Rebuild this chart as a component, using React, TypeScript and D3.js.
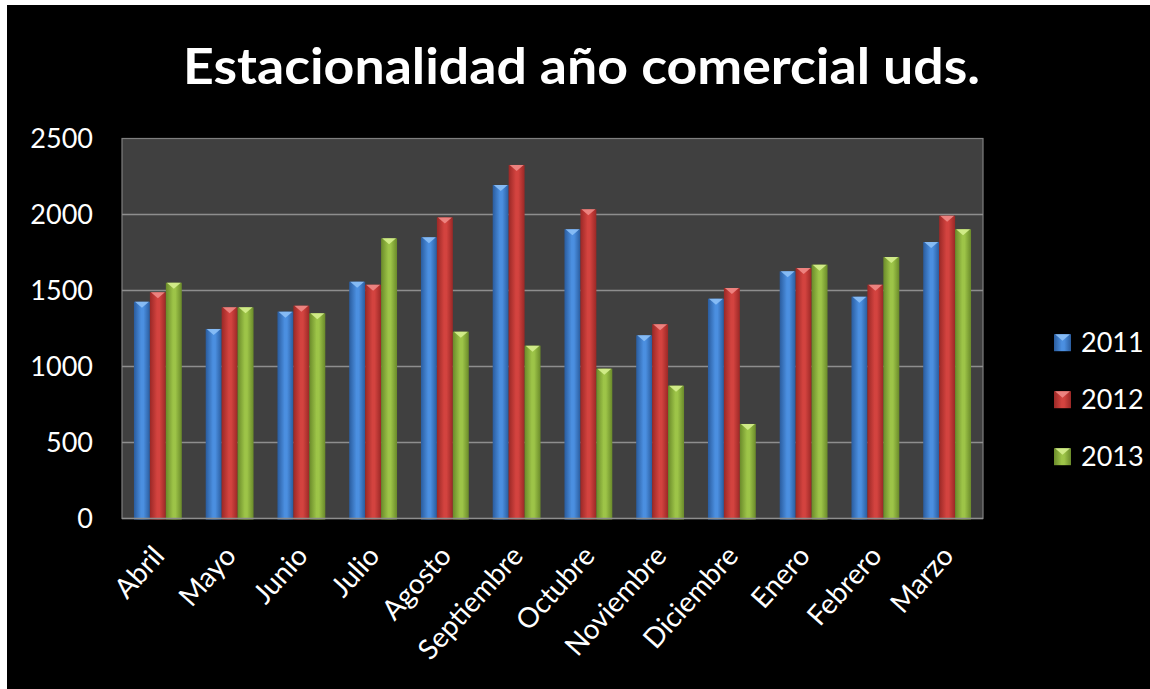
import React from "react";
import * as d3 from "d3";

const months = ["Abril","Mayo","Junio","Julio","Agosto","Septiembre","Octubre","Noviembre","Diciembre","Enero","Febrero","Marzo"];
const seriesNames = ["2011","2012","2013"];
const values2011 = [1426,1247,1361,1558,1850,2194,1903,1205,1446,1626,1459,1819];
const values2012 = [1488,1389,1400,1538,1981,2326,2034,1278,1516,1648,1538,1992];
const values2013 = [1551,1389,1350,1843,1229,1137,986,874,622,1670,1720,1903];
const yTicks = [0,500,1000,1500,2000,2500];
const title = "Estacionalidad año comercial uds.";

const W = 1150, H = 689;
const plot = { left: 122, right: 983, top: 138.5, bottom: 518.5 };
const FONT = "Lato, 'Open Sans', 'Liberation Sans', sans-serif";

const palette = [
  { edge: "#2a5c9e", mid: "#4b8fe0", cap: "#8cc0f7" },
  { edge: "#9a2826", mid: "#d3433f", cap: "#f08a86" },
  { edge: "#6a8a2a", mid: "#9dc448", cap: "#d6ef8e" },
];

export default function App() {
  const data = [values2011, values2012, values2013];
  const x = d3.scaleBand<string>().domain(months).range([plot.left, plot.right]).paddingInner(1.5 / 4.5).paddingOuter(0.75 / 4.5);
  const xs = d3.scaleBand<string>().domain(seriesNames).range([0, x.bandwidth()]).padding(0);
  const y = d3.scaleLinear().domain([0, 2500]).range([plot.bottom, plot.top]);

  return (
    <svg width={W} height={H} style={{ position: "absolute", left: 0, top: 0, display: "block" }}>
      <defs>
        {palette.map((p, i) => (
          <linearGradient key={i} id={`g${i}`} x1="0" y1="0" x2="1" y2="0">
            <stop offset="0" stopColor={p.edge} />
            <stop offset="0.45" stopColor={p.mid} />
            <stop offset="0.6" stopColor={p.mid} />
            <stop offset="1" stopColor={p.edge} />
          </linearGradient>
        ))}
      </defs>
      <rect x={0} y={0} width={W} height={H} fill="#ffffff" />
      <rect x={7} y={5} width={W - 7} height={H - 5} fill="#000000" />
      <text x={(183 + 980) / 2} y={84} textAnchor="middle" fill="#ffffff" fontFamily={FONT} fontWeight={700} fontSize={49} textLength={797} lengthAdjust="spacingAndGlyphs">{title}</text>

      <rect x={plot.left} y={plot.top} width={plot.right - plot.left} height={plot.bottom - plot.top} fill="#404040" stroke="#7f7f7f" strokeWidth={1.2} />
      {yTicks.map((t) => (
        <g key={t}>
          {t > 0 && t < 2500 && <line x1={plot.left} x2={plot.right} y1={y(t)} y2={y(t)} stroke="#8e8e8e" strokeWidth={1.5} />}
          <text x={93} y={y(t)} dy="0.35em" textAnchor="end" fill="#ffffff" fontFamily={FONT} fontSize={27}>{t}</text>
        </g>
      ))}

      {months.map((m, mi) => (
        <g key={m}>
          {data.map((vals, si) => {
            const bx = (x(m) as number) + (xs(seriesNames[si]) as number);
            const bw = xs.bandwidth();
            const top = y(vals[mi]);
            const p = palette[si];
            return (
              <g key={si}>
                <rect x={bx} y={top} width={bw} height={plot.bottom - top + 1} fill={`url(#g${si})`} />
                <polygon points={`${bx + 1},${top} ${bx + bw - 1},${top} ${bx + bw / 2},${top + 6}`} fill={p.cap} opacity={0.9} />
              </g>
            );
          })}
        </g>
      ))}
      <line x1={plot.left} x2={plot.right} y1={plot.bottom} y2={plot.bottom} stroke="#8e8e8e" strokeWidth={1.5} />

      {months.map((m) => {
        const cx = (x(m) as number) + x.bandwidth() / 2;
        return (
          <text key={m} transform={`translate(${cx + 8},${557}) rotate(-48)`} textAnchor="end" fill="#ffffff" fontFamily={FONT} fontSize={28}>{m}</text>
        );
      })}

      {seriesNames.map((s, i) => {
        const ly = 342.7 + i * 57;
        const p = palette[i];
        return (
          <g key={s}>
            <rect x={1054} y={ly - 8.5} width={17} height={17} fill={`url(#g${i})`} />
            <polygon points={`${1055},${ly - 8.5} ${1070},${ly - 8.5} ${1062.5},${ly - 2}`} fill={p.cap} opacity={0.9} />
            <text x={1081} y={ly} dy="0.35em" fill="#ffffff" fontFamily={FONT} fontSize={27}>{s}</text>
          </g>
        );
      })}
    </svg>
  );
}
